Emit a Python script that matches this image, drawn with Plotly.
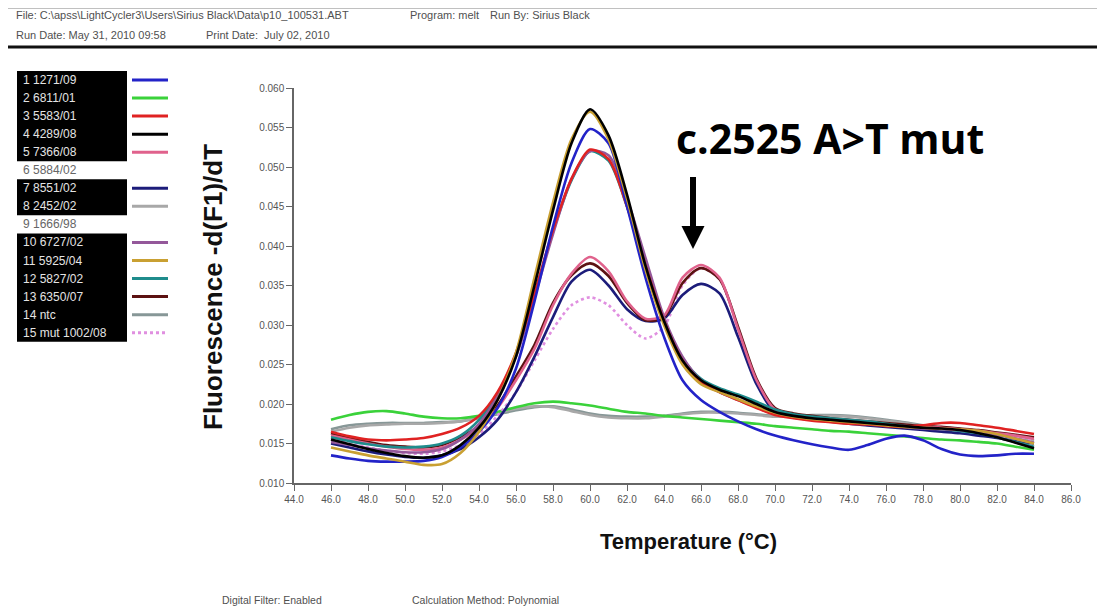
import plotly.graph_objects as go

# ---------------- data (fluorescence -d(F1)/dT, in units of 1e-3) ----------------
temperature = list(range(46, 85))

sample_labels = ["1 1271/09", "2 6811/01", "3 5583/01", "4 4289/08", "5 7366/08",
                 "6 5884/02", "7 8551/02", "8 2452/02", "9 1666/98", "10 6727/02",
                 "11 5925/04", "12 5827/02", "13 6350/07", "14 ntc", "15 mut 1002/08"]
sample_colors = ["#2323c8", "#3ad23a", "#e02222", "#000000", "#e0628c",
                 None, "#1c1c7a", "#a8a8a8", None, "#94589a",
                 "#c9a032", "#1f8c8c", "#5c1212", "#879797", "#e08fe0"]
legend_boxes = [(0, 4), (6, 7), (9, 14)]

s1 = [13.5, 13.1, 12.8, 12.7, 12.7, 12.8, 13.3, 14.5, 16.5, 19.5, 24.5, 33.0, 42.5, 50.5, 54.8, 53.0, 45.0, 36.0, 28.5,
      23.0, 20.5, 19.0, 17.8, 16.8, 16.0, 15.4, 14.9, 14.5, 14.2, 14.8, 15.6, 16.0, 15.4, 14.3, 13.6, 13.4, 13.5, 13.7, 13.7]
s2 = [18.0, 18.6, 19.0, 19.1, 18.8, 18.4, 18.2, 18.2, 18.5, 19.0, 19.6, 20.1, 20.3, 20.1, 19.8, 19.4, 19.0, 18.8, 18.5,
      18.3, 18.1, 17.9, 17.7, 17.5, 17.2, 17.0, 16.8, 16.6, 16.5, 16.3, 16.1, 15.9, 15.7, 15.5, 15.4, 15.2, 15.0, 14.6, 14.2]
s3 = [16.5, 15.9, 15.5, 15.4, 15.5, 15.7, 16.2, 17.0, 18.5, 21.5, 26.5, 34.0, 42.0, 48.5, 52.2, 51.0, 45.0, 37.5, 30.5,
      25.5, 22.8, 21.5, 20.5, 19.5, 18.6, 18.2, 17.9, 17.7, 17.5, 17.4, 17.2, 17.1, 17.3, 17.6, 17.6, 17.3, 17.0, 16.6, 16.2]
s4 = [15.5, 14.9, 14.3, 13.8, 13.4, 13.2, 13.5, 14.8, 17.0, 20.5, 26.0, 35.0, 44.5, 53.0, 57.3, 54.0, 46.5, 37.5, 30.5,
      25.5, 23.0, 21.8, 21.0, 20.0, 19.0, 18.5, 18.2, 18.0, 17.8, 17.6, 17.4, 17.2, 17.0, 16.9, 16.7, 16.3, 15.8, 15.1, 14.4]
s5 = [16.0, 15.5, 15.0, 14.6, 14.3, 14.2, 14.5, 15.5, 17.0, 19.5, 23.0, 27.0, 32.5, 36.5, 38.6, 36.8, 33.0, 30.8, 31.2,
      36.0, 37.6, 36.0, 29.5, 23.0, 19.3, 18.6, 18.3, 18.0, 17.8, 17.6, 17.4, 17.2, 17.1, 17.0, 16.8, 16.6, 16.3, 16.0, 15.6]
s7 = [15.0, 14.5, 14.0, 13.6, 13.3, 13.2, 13.5, 14.3, 15.8, 18.0, 21.5, 26.0, 31.0, 35.5, 37.0, 35.0, 32.0, 30.5, 30.8,
      33.8, 35.2, 34.0, 28.5, 22.5, 19.0, 18.3, 18.0, 17.8, 17.5, 17.3, 17.1, 16.9, 16.7, 16.5, 16.3, 16.0, 15.7, 15.3, 15.0]
s8 = [16.5, 17.0, 17.3, 17.4, 17.5, 17.5, 17.6, 17.8, 18.3, 18.9, 19.4, 19.7, 19.6, 19.1, 18.6, 18.3, 18.2, 18.2, 18.4,
      18.7, 18.9, 18.9, 18.8, 18.6, 18.4, 18.4, 18.5, 18.5, 18.4, 18.2, 17.9, 17.6, 17.2, 16.9, 16.7, 16.4, 16.1, 15.7, 15.3]
s10 = [15.2, 14.8, 14.4, 14.1, 13.9, 13.9, 14.3, 15.5, 17.5, 21.0, 26.0, 33.5, 41.5, 48.5, 52.0, 51.5, 46.0, 38.5, 31.0,
       26.0, 23.0, 21.5, 20.5, 19.6, 18.8, 18.4, 18.1, 17.9, 17.7, 17.5, 17.3, 17.1, 16.9, 16.8, 16.7, 16.5, 16.1, 15.6, 15.1]
s11 = [14.5, 14.0, 13.5, 13.1, 12.7, 12.3, 12.4, 13.8, 16.5, 20.5, 26.5, 36.0, 45.5, 53.5, 57.0, 53.5, 46.0, 37.0, 30.0,
       25.0, 22.5, 21.5, 20.6, 19.7, 18.9, 18.4, 18.1, 17.9, 17.7, 17.5, 17.3, 17.1, 17.0, 16.9, 16.8, 16.6, 16.2, 15.6, 15.0]
s12 = [15.8, 15.3, 14.9, 14.6, 14.5, 14.6, 15.0, 16.0, 18.0, 21.3, 26.3, 33.8, 41.8, 48.3, 52.0, 50.8, 45.0, 37.5, 30.7,
       25.8, 23.2, 22.0, 21.2, 20.3, 19.3, 18.7, 18.4, 18.2, 18.0, 17.8, 17.5, 17.2, 17.0, 16.8, 16.6, 16.3, 15.8, 15.2, 14.6]
s13 = [16.3, 15.7, 15.2, 14.8, 14.6, 14.5, 14.8, 15.8, 17.2, 19.8, 23.5, 27.5, 32.8, 36.3, 37.8, 36.2, 32.8, 30.6, 31.0,
       35.3, 37.2, 35.8, 29.8, 23.2, 19.5, 18.8, 18.5, 18.2, 18.0, 17.8, 17.6, 17.4, 17.2, 17.1, 16.9, 16.7, 16.4, 16.1, 15.8]
s14 = [16.8, 17.3, 17.5, 17.6, 17.6, 17.6, 17.7, 17.8, 18.2, 18.7, 19.2, 19.6, 19.7, 19.3, 18.8, 18.5, 18.4, 18.4, 18.5,
       18.8, 19.0, 19.0, 18.9, 18.7, 18.5, 18.5, 18.6, 18.6, 18.5, 18.3, 18.0, 17.7, 17.3, 17.0, 16.8, 16.5, 16.2, 15.8, 15.4]
s15 = [15.5, 15.0, 14.5, 14.1, 13.8, 13.7, 14.0, 14.8, 16.2, 18.5, 21.5, 25.5, 29.5, 32.5, 33.5, 32.5, 30.0, 28.3, 29.8,
       35.0, 37.2, 35.8, 29.5, 23.0, 19.2, 18.5, 18.2, 17.9, 17.7, 17.5, 17.3, 17.1, 16.9, 16.8, 16.6, 16.4, 16.1, 15.8, 15.4]

series = {0: s1, 1: s2, 2: s3, 3: s4, 4: s5, 6: s7, 7: s8, 9: s10, 10: s11, 11: s12, 12: s13, 13: s14, 14: s15}
draw_order = [13, 7, 1, 14, 6, 12, 4, 11, 9, 2, 0, 10, 3]

x_ticks = [44 + 2 * i for i in range(22)]
y_ticks = [0.010, 0.015, 0.020, 0.025, 0.030, 0.035, 0.040, 0.045, 0.050, 0.055, 0.060]

annotation_text = "c.2525 A>T mut"
header_items = [("File: C:\\apss\\LightCycler3\\Users\\Sirius Black\\Data\\p10_100531.ABT", 14, 15),
                ("Program: melt", 408, 15), ("Run By: Sirius Black", 488, 15),
                ("Run Date: May 31, 2010 09:58", 14, 35), ("Print Date:  July 02, 2010", 204, 35)]
footer_items = [("Digital Filter: Enabled", 220, 600), ("Calculation Method: Polynomial", 410, 600)]

# ---------------- layout geometry (screen pixels; page body has an 8px margin) ----------------
OFF = 8
W, H = 1105 - OFF, 606 - OFF
L, R, T, B = 294, 1071, 88, 483  # plot area in screen pixels


def px(x):
    return (x - L) / (R - L)


def py(y):
    return (B - y) / (B - T)


fig = go.Figure()
for idx in draw_order:
    vals = [v / 1000.0 for v in series[idx]]
    fig.add_trace(go.Scatter(
        x=temperature, y=vals, mode="lines", name=sample_labels[idx],
        line=dict(color=sample_colors[idx], width=2.6, shape="spline", smoothing=0.8,
                  dash="dot" if idx == 14 else "solid"),
        showlegend=False, hoverinfo="skip"))

shapes = []
annotations = []

# header
for text, x, y in header_items:
    annotations.append(dict(text=text, x=px(x), y=py(y), xref="paper", yref="paper",
                            xanchor="left", yanchor="middle", showarrow=False,
                            font=dict(family="Liberation Sans", size=11, color="#505050")))
shapes.append(dict(type="line", xref="paper", yref="paper", x0=px(0), x1=px(1105), y0=py(47), y1=py(47),
                   line=dict(color="#111111", width=3)))
shapes.append(dict(type="line", xref="paper", yref="paper", x0=px(0), x1=px(1105), y0=py(OFF + 0.5), y1=py(OFF + 0.5),
                   line=dict(color="#c0c0c0", width=1)))

# legend
row_y = [80 + 18.05 * i for i in range(len(sample_labels))]
for a, b in legend_boxes:
    shapes.append(dict(type="rect", xref="paper", yref="paper", x0=px(17), x1=px(127),
                       y0=py(row_y[a] - 9), y1=py(row_y[b] + 9),
                       fillcolor="#000000", line=dict(width=0), layer="above"))
boxed = set()
for a, b in legend_boxes:
    boxed.update(range(a, b + 1))
for i, lab in enumerate(sample_labels):
    annotations.append(dict(text=lab, x=px(21), y=py(row_y[i]), xref="paper", yref="paper",
                            xanchor="left", yanchor="middle", showarrow=False,
                            font=dict(family="Liberation Sans", size=12,
                                      color="#e4e4e4" if i in boxed else "#666666")))
    if sample_colors[i]:
        shapes.append(dict(type="line", xref="paper", yref="paper", x0=px(132), x1=px(168),
                           y0=py(row_y[i]), y1=py(row_y[i]),
                           line=dict(color=sample_colors[i], width=3,
                                     dash="dot" if i == 14 else "solid")))

# axis titles
annotations.append(dict(text="<b>Fluorescence -d(F1)/dT</b>", x=px(213), y=py(287), xref="paper", yref="paper",
                        textangle=-90, showarrow=False, xanchor="center", yanchor="middle",
                        font=dict(family="Liberation Sans", size=26, color="#111111")))
annotations.append(dict(text="<b>Temperature (°C)</b>", x=px(688), y=py(541), xref="paper", yref="paper",
                        showarrow=False, xanchor="center", yanchor="middle",
                        font=dict(family="Liberation Sans", size=22, color="#111111")))

# mutation annotation
annotations.append(dict(text="<b>" + annotation_text + "</b>", x=px(830), y=py(138), xref="paper", yref="paper",
                        showarrow=False, xanchor="center", yanchor="middle",
                        font=dict(family="Open Sans", size=41, color="#000000")))
shapes.append(dict(type="line", xref="paper", yref="paper", x0=px(693), x1=px(693), y0=py(177), y1=py(230),
                   line=dict(color="#000000", width=6)))
shapes.append(dict(type="path", xref="paper", yref="paper",
                   path="M {} {} L {} {} L {} {} Z".format(px(681.5), py(226), px(704.5), py(226), px(693), py(249)),
                   fillcolor="#000000", line=dict(width=0)))

# footer
for text, x, y in footer_items:
    annotations.append(dict(text=text, x=px(x), y=py(y), xref="paper", yref="paper",
                            xanchor="left", yanchor="middle", showarrow=False,
                            font=dict(family="Liberation Sans", size=10.5, color="#505050")))

fig.update_layout(
    width=W, height=H,
    margin=dict(l=L - OFF, r=W - (R - OFF), t=T - OFF, b=H - (B - OFF), pad=0),
    paper_bgcolor="white", plot_bgcolor="white",
    shapes=shapes, annotations=annotations,
    xaxis=dict(range=[44, 86], tickvals=x_ticks, tickformat=".1f", ticks="outside", ticklen=6,
               tickcolor="#666666", showline=True, linecolor="#666666", linewidth=1.5,
               showgrid=False, zeroline=False,
               tickfont=dict(family="Liberation Sans", size=10, color="#555555")),
    yaxis=dict(range=[0.010, 0.060], tickvals=y_ticks, tickformat=".3f", ticks="outside", ticklen=6,
               tickcolor="#666666", showline=True, linecolor="#666666", linewidth=1.5,
               showgrid=False, zeroline=False,
               tickfont=dict(family="Liberation Sans", size=10, color="#555555")),
)

fig.write_html("out.html")
